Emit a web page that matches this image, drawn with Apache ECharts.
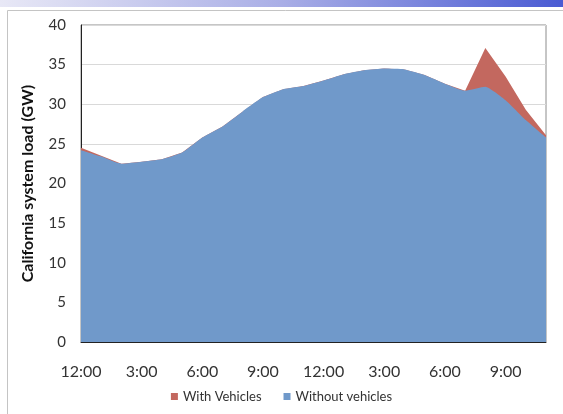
<!DOCTYPE html>
<html>
<head>
<meta charset="utf-8">
<script src="https://cdn.jsdelivr.net/npm/echarts@6/dist/echarts.min.js"></script>
<style>
  html, body { margin: 0; padding: 0; background: #fff; }
  #chart { width: 563px; height: 414px; }
</style>
</head>
<body>
<div id="chart"></div>
<script>
// hourly load, midnight to 11pm
const hours = ['12:00', '1:00', '2:00', '3:00', '4:00', '5:00', '6:00', '7:00', '8:00', '9:00', '10:00', '11:00',
  '12:00', '1:00', '2:00', '3:00', '4:00', '5:00', '6:00', '7:00', '8:00', '9:00', '10:00', '11:00']
const withVehicles = [24.5, 23.5, 22.5, 22.75, 23.05, 23.9, 25.8, 27.2, 29.1, 30.9, 31.9, 32.3,
  33.0, 33.8, 34.3, 34.5, 34.4, 33.7, 32.6, 31.7, 37.1, 33.5, 29.3, 26.1]
const withoutVehicles = [24.2, 23.4, 22.5, 22.75, 23.05, 23.9, 25.8, 27.2, 29.1, 30.9, 31.9, 32.3,
  33.0, 33.8, 34.3, 34.5, 34.4, 33.7, 32.6, 31.7, 32.2, 30.5, 28.0, 25.8]
const seriesNames = ['With Vehicles', 'Without vehicles']

const chart = echarts.init(document.getElementById('chart'))
const font = 'Lato, "Open Sans", sans-serif'

chart.setOption({
  animation: false,
  color: ['#c3685f', '#7099ca'],
  textStyle: { fontFamily: font },
  graphic: [
    {
      type: 'rect',
      shape: { x: 0, y: 0, width: 563, height: 7 },
      style: {
        fill: new echarts.graphic.LinearGradient(0, 0, 1, 0, [
          { offset: 0, color: '#e8e8f6' },
          { offset: 0.5, color: '#a9aee6' },
          { offset: 1, color: '#4a5bd3' }
        ])
      },
      silent: true
    },
    {
      type: 'polyline',
      shape: { points: [[7.5, 414], [7.5, 10.5], [563, 10.5]] },
      style: { stroke: '#c4c4c4', lineWidth: 1, fill: null },
      silent: true
    }
  ],
  grid: {
    left: 81,
    right: 17,
    top: 25,
    bottom: 72,
    show: true,
    borderColor: '#8c8c8c',
    borderWidth: 1
  },
  legend: {
    data: seriesNames,
    bottom: 6,
    left: 'center',
    itemWidth: 7,
    itemHeight: 7,
    itemGap: 22,
    icon: 'rect',
    textStyle: { fontSize: 13, color: '#333', fontFamily: font }
  },
  xAxis: {
    type: 'category',
    data: hours,
    boundaryGap: false,
    axisLine: { lineStyle: { color: '#222', width: 1 } },
    axisTick: { show: false },
    axisLabel: { interval: 2, margin: 22, fontSize: 16, color: '#333' },
    splitLine: { show: false }
  },
  yAxis: {
    type: 'value',
    min: 0,
    max: 40,
    interval: 5,
    name: 'California system load (GW)',
    nameLocation: 'middle',
    nameGap: 45,
    nameTextStyle: { fontSize: 16, fontWeight: 'bold', color: '#111' },
    axisLine: { show: true, lineStyle: { color: '#222', width: 1 } },
    axisTick: { show: false },
    axisLabel: { margin: 15, fontSize: 15, color: '#333' },
    splitLine: { lineStyle: { color: '#d9d9d9' } }
  },
  series: [
    {
      name: seriesNames[0],
      type: 'line',
      data: withVehicles,
      symbol: 'none',
      lineStyle: { width: 0 },
      areaStyle: { color: '#c3685f', opacity: 1 },
      z: 2
    },
    {
      name: seriesNames[1],
      type: 'line',
      data: withoutVehicles,
      symbol: 'none',
      smooth: 0.15,
      lineStyle: { width: 0 },
      areaStyle: { color: '#7099ca', opacity: 1 },
      z: 3
    }
  ]
})
</script>
</body>
</html>
